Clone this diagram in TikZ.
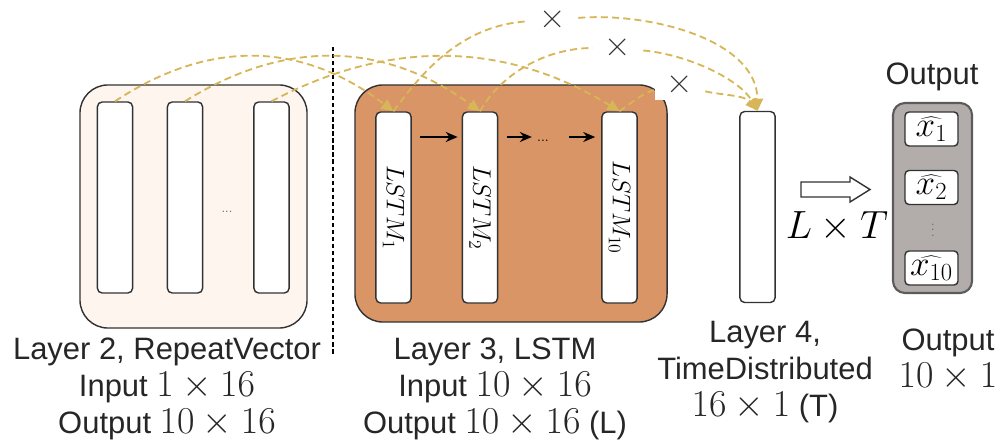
\RequirePackage{fix-cm}
\documentclass[tikz,border=0pt]{standalone}
\usepackage{fontspec}
\newfontfamily\labelfont{Liberation Sans}
\usetikzlibrary{arrows.meta}

\definecolor{gold}{RGB}{214,182,86}
\definecolor{repfill}{RGB}{254,245,239}
\definecolor{lstmfill}{RGB}{218,149,103}
\definecolor{outfill}{RGB}{178,172,170}
\definecolor{boxline}{RGB}{50,50,50}

\newcommand{\mdim}[1]{{\fontsize{27}{26.3}\selectfont$#1$}}

\begin{document}
\begin{tikzpicture}[x=0.025cm, y=-0.025cm,
    lbl/.style={font=\labelfont\fontsize{22}{26.3}\selectfont, align=center, inner sep=0pt, text=black!85},
    layerbox/.style={draw=boxline, line width=1pt, rounded corners=0.7cm},
    cell/.style={draw=boxline, fill=white, line width=1pt, rounded corners=0.12cm,
        minimum width=0.88cm, minimum height=4.775cm, inner sep=0pt},
    outcell/.style={draw=boxline, fill=white, line width=1pt, rounded corners=0.1cm,
        minimum width=1.325cm, minimum height=0.85cm, inner sep=0pt, font=\fontsize{25}{25}\selectfont},
    crossmark/.style={fill=white, minimum width=1.25cm, minimum height=0.75cm, inner sep=0pt,
        font=\fontsize{26}{26}\selectfont, text=black!80},
    feedline/.style={gold, line width=1.3pt, dash pattern=on 5pt off 3pt},
    feed/.style={feedline, -{Triangle[length=0.3cm, width=0.28cm]}},
    recur/.style={-{Stealth[length=0.3cm, width=0.25cm]}, line width=1.4pt},
    divider/.style={line width=1pt, dash pattern=on 3pt off 2pt}]
\useasboundingbox (0,0) rectangle (1003,445);
% layer 2, repeat vector
\node[layerbox, fill=repfill, minimum width=5.675cm, minimum height=6.075cm] (rep) at (193.5,206.5) {};
\foreach \n/\x in {v1/115,v2/185,v3/271.5} {
    \node[cell] (\n) at (\x,197.5) {};
}
\node[text=black!60, font=\fontsize{9}{9}\selectfont, inner sep=0pt] (vdots) at (227,212) {...};
% layer 3, lstm
\node[layerbox, fill=lstmfill, minimum width=7.8cm, minimum height=5.925cm] (lstm) at (511,203.5) {};
\foreach \n/\x/\s in {l1/393.5/1,l2/480/2,l10/619.5/10} {
    \node[cell] (\n) at (\x,207.5) {};
    \node[rotate=-90, font=\fontsize{18}{18}\selectfont] at (\n) {$LSTM_{\s}$};
}
\node[font=\fontsize{10}{10}\selectfont, inner sep=0pt] (ldots) at (543,141) {...};
\coordinate (arow) at (0,137);
\draw[recur, shorten <=0.2cm, shorten >=0.1cm] (l1.east |- arow) -- (l2.west |- arow);
\draw[recur, shorten <=0.21cm, shorten >=0.125cm] (l2.east |- arow) -- (ldots.west |- arow);
\draw[recur, shorten <=0.5cm, shorten >=0.15cm] (ldots.east |- arow) -- (l10.west |- arow);
% crossed links
\node[crossmark] (x1) at (553,20) {×};
\node[crossmark] (x2) at (618,48) {×};
\node[crossmark] (x3) at (680,85) {×};
% layer 4, time distributed
\node[cell] (td) at (757.5,207) {};
% output
\node[lbl, anchor=base] (outtitle) at (932,85) {Output};
\node[draw=boxline!80, fill=outfill, line width=1.5pt, rounded corners=0.3cm,
    minimum width=1.975cm, minimum height=4.75cm] (outbox) at (932.5,198) {};
\node[outcell] (o1) at (931.5,129) {$\widehat{x_1}$};
\node[outcell] (o2) at (931.5,187.5) {$\widehat{x_2}$};
\node[outcell] (o3) at (931.5,268) {$\widehat{x_{10}}$};
\node[text=black!60, font=\fontsize{9}{9}\selectfont, inner sep=0pt] (odots) at (933,226) {$\vdots$};
% L x T arrow
\draw[line width=1pt, draw=boxline, fill=white] (801,182) -- (850,182) -- (850,177) -- (870,189.5)
    -- (850,202) -- (850,197) -- (801,197) -- cycle;
\node (lt) at (837,227) {\fontsize{28}{28}\selectfont$L\times T$};
% separator
\coordinate (septop) at (333,47);
\coordinate (sepbot) at (333,355);
\draw[divider] (septop) -- (sepbot);
% repeat vector links
\foreach \a/\b/\c/\d in {v1/l1/208/300,v2/l2/283/382,v3/l10/387.5/503.5} {
    \draw[feed] (\a.north) .. controls (\c,40) and (\d,40) .. (\b.north);
}
% links to layer 4
\draw[feedline] (l1.north) .. controls (420,75) and (460,25) .. (x1);
\draw[feed] (x1) .. controls (650,12) and (757,40) .. (td.north);
\draw[feedline] (l2.north) .. controls (500,75) and (545,48) .. (x2);
\draw[feed] (x2) .. controls (690,55) and (740,80) .. (td.north);
\draw[feedline] (l10.north) .. controls (635,100) and (645,92) .. (x3);
\draw[feed] (x3) .. controls (720,95) and (745,95) .. (td.north);
% layer labels
\node[lbl, anchor=north] (replbl) at (167,338) {Layer 2, RepeatVector\\Input \mdim{1\times16}\\Output \mdim{10\times16}};
\node[lbl, anchor=north] (lstmlbl) at (495,338) {Layer 3, LSTM\\Input \mdim{10\times16}\\Output \mdim{10\times16} (L)};
\node[lbl, anchor=north] (tdlbl) at (765,321) {Layer 4,\\TimeDistributed\\\mdim{16\times1} (T)};
\node[lbl, anchor=north] (outlbl) at (948,329) {Output\\\mdim{10\times1}};
\end{tikzpicture}
\end{document}
